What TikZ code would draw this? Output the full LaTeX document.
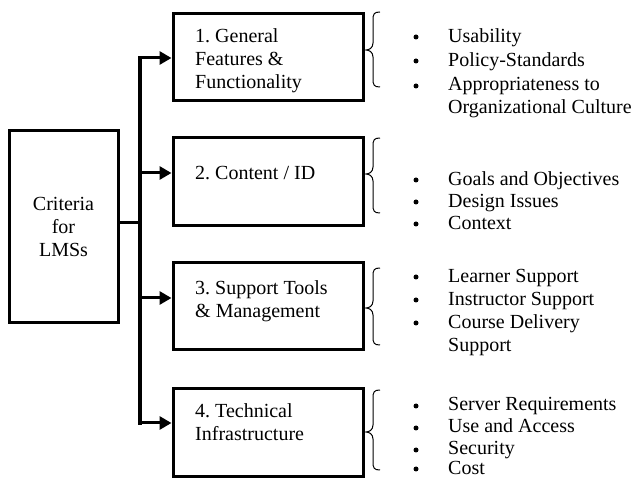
\documentclass[tikz,border=0pt]{standalone}
\usepackage{fontspec}
\setmainfont{Liberation Serif}
\usetikzlibrary{arrows.meta}

% left curly brace: tip x, stem x, end x, top y, tip y, bottom y
\newcommand{\drawbrace}[6]{%
  \draw[bracestyle] (#3,#4) .. controls (#2+1,#4) and (#2,#4+2) .. (#2,#4+8)
    -- (#2,#5-7) .. controls (#2,#5-2) and (#1+3,#5) .. (#1,#5)
    .. controls (#1+3,#5) and (#2,#5+2) .. (#2,#5+7)
    -- (#2,#6-8) .. controls (#2,#6-2) and (#2+1,#6) .. (#3,#6);}

\begin{document}
\begin{tikzpicture}[x=1pt,y=-1pt,
  every node/.style={font=\fontsize{20}{23}\selectfont\frenchspacing},
  box/.style={draw, line width=3pt, inner sep=0pt},
  boxtext/.style={anchor=north west, align=left, inner sep=0pt},
  item/.style={anchor=base west, inner sep=0pt},
  bul/.style={circle, fill=black, inner sep=0pt, minimum size=5pt},
  conn/.style={line width=3pt},
  arr/.style={line width=3pt, -{Triangle[length=12pt,width=13pt]}},
  bracestyle/.style={line width=1pt}]

\useasboundingbox (0,0) rectangle (638,478);

% root box
\node[box, minimum width=109pt, minimum height=192pt, align=center]
  (crit) at (63.5,227) {Criteria\\for\\LMSs};

% category boxes
\node[box, minimum width=190pt, minimum height=87pt] (b1) at (268,57.5) {};
\node[box, minimum width=190pt, minimum height=88pt] (b2) at (268,182) {};
\node[box, minimum width=190pt, minimum height=87pt] (b3) at (268,306.5) {};
\node[box, minimum width=190pt, minimum height=88pt] (b4) at (268,433) {};

\node[boxtext] (l1) at (195,28) {1. General\\Features \&\\Functionality};
\node[boxtext] (l2) at (195,166) {2. Content / ID};
\node[boxtext] (l3) at (195,280) {3. Support Tools\\\& Management};
\node[boxtext] (l4) at (195,403) {4. Technical\\Infrastructure};

% trunk and branches
\coordinate (t1) at (140,58);
\coordinate (t2) at (140,173);
\coordinate (tc) at (140,223);
\coordinate (t3) at (140,298);
\coordinate (t4) at (140,423);

\draw[line width=3.5pt, line cap=rect] (t1) -- (t4);
\draw[conn] (tc -| crit.east) -- (tc);
\draw[arr] (t1) -- (t1 -| b1.west);
\draw[arr] (t2) -- (t2 -| b2.west);
\draw[arr] (t3) -- (t3 -| b3.west);
\draw[arr] (t4) -- (t4 -| b4.west);

% braces
\drawbrace{366}{373}{380}{12}{50}{87}
\drawbrace{366}{373}{380}{138}{174}{213}
\drawbrace{366}{373}{380}{268}{308}{345}
\drawbrace{366}{373}{380}{390}{432}{470}

% group 1
\node[bul] (d11) at (416,37) {};
\node[bul] (d12) at (416,61) {};
\node[bul] (d13) at (416,86) {};
\node[item] (i11) at (448,43) {Usability};
\node[item] (i12) at (448,67) {Policy-Standards};
\node[item] (i13) at (448,91) {Appropriateness to};
\node[item] (i14) at (448,114) {Organizational Culture};

% group 2
\node[bul] (d21) at (416,180) {};
\node[bul] (d22) at (416,202) {};
\node[bul] (d23) at (416,224) {};
\node[item] (i21) at (448,186) {Goals and Objectives};
\node[item] (i22) at (448,208) {Design Issues};
\node[item] (i23) at (448,230) {Context};

% group 3
\node[bul] (d31) at (416,277) {};
\node[bul] (d32) at (416,300) {};
\node[bul] (d33) at (416,323) {};
\node[item] (i31) at (448,283) {Learner Support};
\node[item] (i32) at (448,306) {Instructor Support};
\node[item] (i33) at (448,329) {Course Delivery};
\node[item] (i34) at (448,352) {Support};

% group 4
\node[bul] (d41) at (416,406) {};
\node[bul] (d42) at (416,428) {};
\node[bul] (d43) at (416,450) {};
\node[bul] (d44) at (416,469) {};
\node[item] (i41) at (448,411) {Server Requirements};
\node[item] (i42) at (448,433) {Use and Access};
\node[item] (i43) at (448,455) {Security};
\node[item] (i44) at (448,475) {Cost};
\end{tikzpicture}
\end{document}
